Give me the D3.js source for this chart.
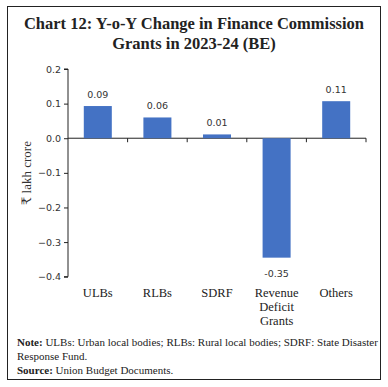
<!DOCTYPE html>
<html><head><meta charset="utf-8">
<script src="https://cdn.jsdelivr.net/npm/d3@7"></script>
<style>body{margin:0;background:#fff}svg{display:block}</style>
</head><body>
<script>
const categories = [["ULBs"],["RLBs"],["SDRF"],["Revenue","Deficit","Grants"],["Others"]];
const values = [0.093, 0.06, 0.011, -0.345, 0.107];
const labels = ["0.09","0.06","0.01","-0.35","0.11"];
const yTicks = [0.2,0.1,0.0,-0.1,-0.2,-0.3,-0.4];
const titleLines = ["Chart 12: Y-o-Y Change in Finance Commission","Grants in 2023-24 (BE)"];

const W=388,H=387;
const svg=d3.select("body").append("svg").attr("width",W).attr("height",H);
svg.append("rect").attr("x",7.5).attr("y",6.5).attr("width",373).attr("height",373)
  .attr("fill","#fff").attr("stroke","#222").attr("stroke-width",1);

const serif="'Liberation Serif','DejaVu Serif',serif";
const sans="'DejaVu Sans','Noto Sans',sans-serif";

svg.selectAll(".title").data(titleLines).join("text")
  .attr("x",194).attr("y",(d,i)=>29+i*20).attr("text-anchor","middle")
  .attr("font-family",serif).attr("font-weight","bold").attr("font-size",16.5).attr("fill","#222")
  .text(d=>d);

const x=d3.scaleBand().domain(d3.range(values.length)).range([68,366]).paddingInner(0.53).paddingOuter(0.265);
const y=d3.scaleLinear().domain([-0.4,0.2]).range([276.7,69]);

const gy=svg.append("g").attr("transform","translate(68,0)")
  .call(d3.axisLeft(y).tickValues(yTicks).tickFormat(d3.format(".1f")).tickSize(4).tickPadding(3));
gy.select(".domain").attr("stroke","#222").attr("d","M-4,"+y(0.2)+"H0V"+y(-0.4)+"H-4");
gy.selectAll(".tick line").attr("stroke","#222");
gy.selectAll(".tick text").attr("font-family",sans).attr("font-size",9.5).attr("fill","#333");

const bounds=d3.range(values.length+1).map(i=>68+i*(366-68)/values.length);
svg.append("line").attr("x1",68).attr("x2",366).attr("y1",y(0)).attr("y2",y(0)).attr("stroke","#222");
svg.selectAll(".xt").data(bounds.slice(1)).join("line")
  .attr("x1",d=>d).attr("x2",d=>d).attr("y1",y(0)).attr("y2",y(0)+4).attr("stroke","#222");

svg.selectAll(".bar").data(values).join("rect")
  .attr("x",(d,i)=>x(i)).attr("width",x.bandwidth())
  .attr("y",d=>y(Math.max(0,d))).attr("height",d=>Math.abs(y(d)-y(0)))
  .attr("fill","#4472c4");

svg.selectAll(".dl").data(values).join("text")
  .attr("x",(d,i)=>x(i)+x.bandwidth()/2)
  .attr("y",d=>d>=0? y(d)-8 : y(d)+19)
  .attr("text-anchor","middle").attr("font-family",sans).attr("font-size",9.5).attr("fill","#333")
  .text((d,i)=>labels[i]);

categories.forEach((c,i)=>{
  svg.append("text").attr("x",x(i)+x.bandwidth()/2).attr("y",297)
    .attr("text-anchor","middle").attr("font-family",serif).attr("font-size",12.5).attr("fill","#222")
    .selectAll("tspan").data(c).join("tspan")
    .attr("x",x(i)+x.bandwidth()/2).attr("dy",(d,j)=>j?14.2:0).text(d=>d);
});

svg.append("text").attr("transform","translate(31,173) rotate(-90)").attr("text-anchor","middle")
  .attr("font-family",serif).attr("font-size",13).attr("fill","#333").text("₹ lakh crore");

const notes=[[["Note: ",true],["ULBs: Urban local bodies; RLBs: Rural local bodies; SDRF: State Disaster",false]],
  [["Response Fund.",false]],[["Source: ",true],["Union Budget Documents.",false]]];
notes.forEach((ln,i)=>{
  const t=svg.append("text").attr("x",17).attr("y",346+i*14).attr("font-family",serif).attr("font-size",11).attr("fill","#222");
  ln.forEach(p=>t.append("tspan").attr("font-weight",p[1]?"bold":"normal").text(p[0]));
});
</script>
</body></html>
